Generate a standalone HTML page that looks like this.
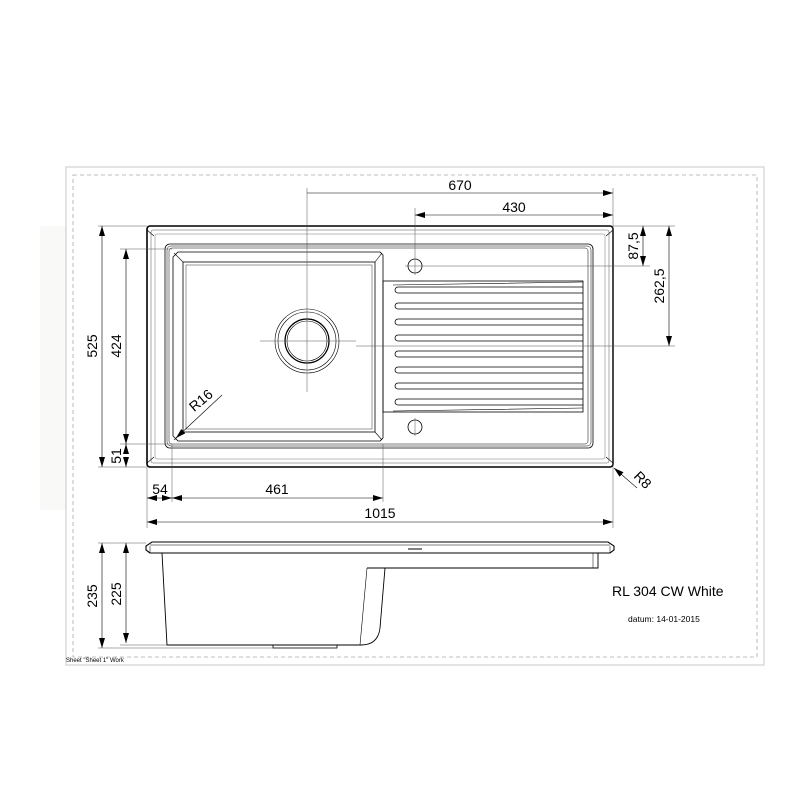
<!DOCTYPE html>
<html><head><style>
html,body{margin:0;padding:0;background:#fff;}
svg{display:block;font-family:"Liberation Sans",Arial,sans-serif;}
</style></head><body>
<svg width="800" height="800" viewBox="0 0 800 800" xmlns="http://www.w3.org/2000/svg">
<defs>
<marker id="a" viewBox="0 0 10 6" refX="10" refY="3" markerWidth="10" markerHeight="6" orient="auto-start-reverse" markerUnits="userSpaceOnUse"><path d="M0,0 L10,3 L0,6 z" fill="#000"/></marker>
</defs>
<rect x="40" y="226" width="26" height="284" fill="#f9f9f7"/>
<rect x="66" y="167" width="698" height="498" fill="#fff" stroke="#c8c8c8" stroke-width="1"/>
<rect x="73" y="175" width="684" height="482" fill="none" stroke="#aaa" stroke-width="0.8" stroke-dasharray="4,3"/>

<g fill="none" stroke="#000">
<rect x="147" y="226" width="466" height="241" rx="3" stroke-width="1.6"/>
<rect x="151" y="230" width="458" height="233" rx="2" stroke-width="0.5" stroke="#555"/>
<rect x="155" y="234" width="450" height="225" rx="2" stroke-width="0.5" stroke="#777"/>
<path d="M147,230 l7,6 M613,230 l-7,6 M147,463 l7,-6 M613,463 l-7,-6" stroke-width="0.6"/>
<rect x="165" y="244" width="428" height="204" rx="5" stroke-width="0.8"/>
<rect x="167" y="246" width="424" height="200" rx="4" stroke-width="0.5"/>
<rect x="169" y="248" width="419" height="196" rx="3" stroke-width="0.5"/>
<path d="M178,252 L380,252 L383,255 L383,438 L380,441 L178,441 L173,436 L173,257 Z" stroke-width="0.8"/>
<rect x="183" y="262" width="192" height="170" stroke-width="0.8"/>
<rect x="186" y="265" width="186" height="164" stroke-width="0.4"/>
<path d="M174,253 L183,262 M382,253 L375,262 M174,440 L183,432 M382,440 L375,432" stroke-width="0.6"/>
<circle cx="307" cy="341" r="32" stroke-width="0.6"/>
<circle cx="307" cy="341" r="29" stroke-width="0.6"/>
<circle cx="307" cy="341" r="22" stroke-width="1.2"/>
<circle cx="307" cy="341" r="20" stroke-width="0.6"/>
<rect x="383" y="281" width="200" height="131" stroke-width="0.8"/>
<path d="M393,285 L583,282 M393,411 L583,408" stroke-width="0.6"/>
<g stroke-width="0.8">
<path d="M583,287 L398,287 A3,3 0 0 0 398,293 L583,293"/>
<path d="M583,303 L398,303 A3,3 0 0 0 398,309 L583,309"/>
<path d="M583,319 L398,319 A3,3 0 0 0 398,325 L583,325"/>
<path d="M583,335 L398,335 A3,3 0 0 0 398,341 L583,341"/>
<path d="M583,351 L398,351 A3,3 0 0 0 398,357 L583,357"/>
<path d="M583,367 L398,367 A3,3 0 0 0 398,373 L583,373"/>
<path d="M583,383 L398,383 A3,3 0 0 0 398,389 L583,389"/>
<path d="M583,399 L398,399 A3,3 0 0 0 398,405 L583,405"/>
</g>
<circle cx="415" cy="266" r="7" stroke-width="0.8"/>
<circle cx="415" cy="427" r="7" stroke-width="0.8"/>
</g>

<g stroke="#555" stroke-width="0.5" fill="none">
<line x1="307" y1="188" x2="307" y2="392"/>
<line x1="260" y1="341" x2="356" y2="341"/>
<line x1="356" y1="346" x2="675" y2="346"/>
<line x1="415" y1="208" x2="415" y2="275"/>
<line x1="405" y1="266" x2="650" y2="266"/>
<line x1="415" y1="418" x2="415" y2="436"/>
<line x1="613" y1="188" x2="613" y2="528"/>
<line x1="613" y1="226" x2="675" y2="226"/>
<line x1="98" y1="226" x2="147" y2="226"/>
<line x1="98" y1="467" x2="147" y2="467"/>
<line x1="120" y1="249" x2="172" y2="249"/>
<line x1="120" y1="444" x2="172" y2="444"/>
<line x1="147" y1="467" x2="147" y2="528"/>
<line x1="172" y1="444" x2="172" y2="502"/>
<line x1="383" y1="444" x2="383" y2="502"/>
</g>

<g stroke="#000" stroke-width="0.6" fill="none">
<line x1="307" y1="193" x2="613" y2="193" marker-end="url(#a)"/>
<line x1="415" y1="215" x2="613" y2="215" marker-start="url(#a)" marker-end="url(#a)"/>
<line x1="643" y1="226" x2="643" y2="266" marker-start="url(#a)" marker-end="url(#a)"/>
<line x1="669" y1="226" x2="669" y2="346" marker-start="url(#a)" marker-end="url(#a)"/>
<line x1="102" y1="226" x2="102" y2="467" marker-start="url(#a)" marker-end="url(#a)"/>
<line x1="126" y1="249" x2="126" y2="444" marker-start="url(#a)" marker-end="url(#a)"/>
<line x1="126" y1="454" x2="126" y2="444" marker-end="url(#a)"/>
<line x1="126" y1="457" x2="126" y2="467" marker-end="url(#a)"/>
<line x1="147" y1="498" x2="162" y2="498" marker-start="url(#a)"/>
<line x1="162" y1="498" x2="172" y2="498" marker-end="url(#a)"/>
<line x1="172" y1="498" x2="383" y2="498" marker-start="url(#a)" marker-end="url(#a)"/>
<line x1="147" y1="522" x2="613" y2="522" marker-start="url(#a)" marker-end="url(#a)"/>
<line x1="222" y1="395" x2="176" y2="438" marker-end="url(#a)"/>
<line x1="637" y1="488" x2="614" y2="468" marker-end="url(#a)"/>
<line x1="102" y1="543" x2="102" y2="648" marker-start="url(#a)" marker-end="url(#a)"/>
<line x1="126" y1="543" x2="126" y2="643" marker-start="url(#a)" marker-end="url(#a)"/>
</g>

<g font-size="14" fill="#000">
<text x="460" y="190" text-anchor="middle">670</text>
<text x="514" y="212" text-anchor="middle">430</text>
<text x="277" y="494" text-anchor="middle">461</text>
<text x="160" y="494" text-anchor="middle">54</text>
<text x="380" y="518" text-anchor="middle">1015</text>
<text transform="translate(638,246) rotate(-90)" text-anchor="middle">87,5</text>
<text transform="translate(664,286) rotate(-90)" text-anchor="middle">262,5</text>
<text transform="translate(97,346) rotate(-90)" text-anchor="middle">525</text>
<text transform="translate(121,346) rotate(-90)" text-anchor="middle">424</text>
<text transform="translate(121,456) rotate(-90)" text-anchor="middle">51</text>
<text transform="translate(97,596) rotate(-90)" text-anchor="middle">235</text>
<text transform="translate(121,594) rotate(-90)" text-anchor="middle">225</text>
<text transform="translate(204,404) rotate(-40)" text-anchor="middle">R16</text>
<text transform="translate(633,477) rotate(45)">R8</text>
</g>

<g fill="none" stroke="#000">
<path d="M150,553 L146,550 L146,546 L152,542 L608,542 L614,546 L614,550 L610,553 Z" stroke-width="1.1"/>
<line x1="150" y1="545" x2="610" y2="545" stroke-width="0.5"/>
<line x1="150" y1="553" x2="150" y2="546" stroke-width="0.5"/>
<line x1="610" y1="553" x2="610" y2="546" stroke-width="0.5"/>
<line x1="408" y1="549" x2="422" y2="549" stroke-width="1"/>
<path d="M162,553 L167,645 L361,645" stroke-width="0.9"/>
<path d="M367,568 L360,645" stroke-width="0.6"/>
<path d="M385,568 L380,628 Q378,645 361,645" stroke-width="0.9"/>
<path d="M367,568 L598,568 L598,553" stroke-width="0.9"/>
<line x1="593" y1="553" x2="593" y2="568" stroke-width="0.5"/>
<rect x="273" y="645" width="64" height="3" stroke-width="0.8"/>
</g>
<g stroke="#555" stroke-width="0.5">
<line x1="98" y1="543" x2="146" y2="543"/>
<line x1="120" y1="645" x2="167" y2="645"/>
<line x1="98" y1="648" x2="273" y2="648"/>
</g>
<text x="612" y="596" font-size="14">RL 304 CW White</text>
<text x="628" y="622" font-size="8.5">datum: 14-01-2015</text>
<text x="66" y="662" font-size="6">Sheet "Sheet 1" Work</text>
</svg>
</body></html>
